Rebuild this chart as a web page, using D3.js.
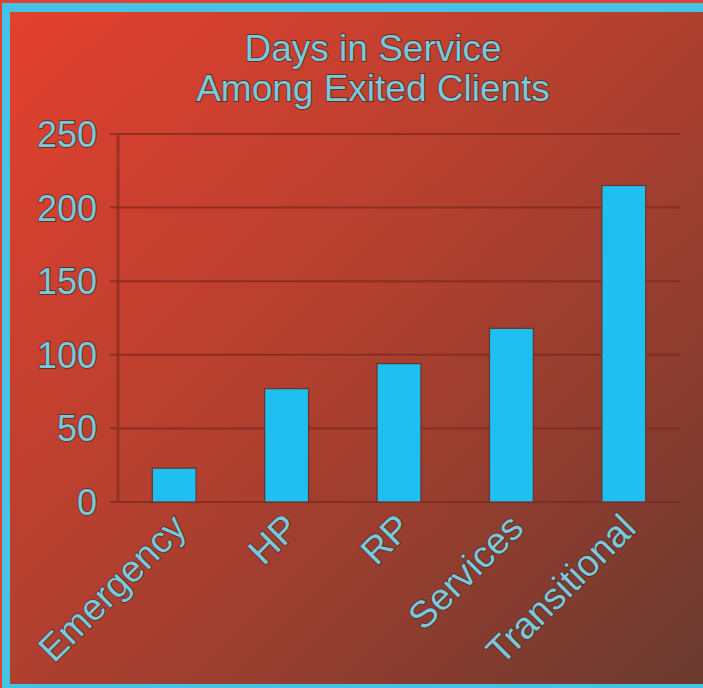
<!DOCTYPE html>
<html>
<head>
<meta charset="utf-8">
<script src="https://cdn.jsdelivr.net/npm/d3@7"></script>
<style>
  html, body { margin: 0; padding: 0; background: #e14131; }
  svg { display: block; }
  text { font-family: "Liberation Sans", Arial, sans-serif; }
</style>
</head>
<body>
<svg id="chart" width="703" height="688"></svg>
<script>
// Average days in service for exited clients, by program type
const categories = ["Emergency", "HP", "RP", "Services", "Transitional"];
const daysInService = [23, 77, 94, 118, 215];
const yTicks = [0, 50, 100, 150, 200, 250];
const titleLines = ["Days in Service", "Among Exited Clients"];

const W = 703, H = 688;
const plot = { left: 118, right: 680, top: 134, bottom: 502 };

const svg = d3.select("#chart");
const defs = svg.append("defs");

const bg = defs.append("linearGradient")
  .attr("id", "bgGrad")
  .attr("x1", "0%").attr("y1", "0%")
  .attr("x2", "100%").attr("y2", "100%");
bg.append("stop").attr("offset", "0%").attr("stop-color", "#e4402f");
bg.append("stop").attr("offset", "45%").attr("stop-color", "#b5402f");
bg.append("stop").attr("offset", "100%").attr("stop-color", "#6a3a2f");

// frame: red page, cyan border strip, gradient panel
svg.append("rect").attr("width", W).attr("height", H).attr("fill", "#e14131");
svg.append("rect").attr("x", 2).attr("y", 3).attr("width", W - 2).attr("height", H - 3)
  .attr("fill", "#45c3e6");
svg.append("rect").attr("x", 10).attr("y", 12).attr("width", W - 10).attr("height", 684 - 12)
  .attr("fill", "url(#bgGrad)");

const x = d3.scaleBand()
  .domain(categories)
  .range([plot.left, plot.right])
  .paddingInner(0.61)
  .paddingOuter(0.305);

const y = d3.scaleLinear()
  .domain([0, 250])
  .range([plot.bottom, plot.top]);

const textFill = "#78c9dc";
const textStroke = "#5a2a21";

function styleText(sel, size) {
  sel.attr("font-size", size)
    .attr("fill", textFill)
    .attr("stroke", textStroke)
    .attr("stroke-width", 1.8)
    .attr("stroke-opacity", 0.85)
    .attr("paint-order", "stroke");
}

// horizontal gridlines
svg.append("g")
  .selectAll("line")
  .data(yTicks)
  .join("line")
  .attr("x1", 110).attr("x2", plot.right)
  .attr("y1", d => y(d)).attr("y2", d => y(d))
  .attr("stroke", "#7a271e")
  .attr("stroke-opacity", 0.7)
  .attr("stroke-width", 2);

// value axis line
svg.append("line")
  .attr("x1", plot.left).attr("x2", plot.left)
  .attr("y1", y(250)).attr("y2", y(0))
  .attr("stroke", "#8a2c22")
  .attr("stroke-opacity", 0.75)
  .attr("stroke-width", 3);

// y tick labels
svg.append("g")
  .selectAll("text")
  .data(yTicks)
  .join("text")
  .attr("x", 97)
  .attr("y", d => y(d))
  .attr("dy", "0.36em")
  .attr("text-anchor", "end")
  .call(styleText, 36)
  .text(d => d);

// bars
svg.append("g")
  .selectAll("rect")
  .data(categories)
  .join("rect")
  .attr("x", d => x(d))
  .attr("width", x.bandwidth())
  .attr("y", (d, i) => y(daysInService[i]))
  .attr("height", (d, i) => y(0) - y(daysInService[i]))
  .attr("fill", "#1fc0f0")
  .attr("stroke", "#6a3328")
  .attr("stroke-width", 1.2);

// category labels, rotated
svg.append("g")
  .selectAll("text")
  .data(categories)
  .join("text")
  .attr("transform", d => `translate(${x(d) + x.bandwidth() / 2 + 14},530) rotate(-45)`)
  .attr("text-anchor", "end")
  .call(styleText, 37.5)
  .text(d => d);

// title
svg.append("g")
  .selectAll("text")
  .data(titleLines)
  .join("text")
  .attr("x", 373)
  .attr("y", (d, i) => 61 + i * 40)
  .attr("text-anchor", "middle")
  .call(styleText, 37)
  .text(d => d);
</script>
</body>
</html>
